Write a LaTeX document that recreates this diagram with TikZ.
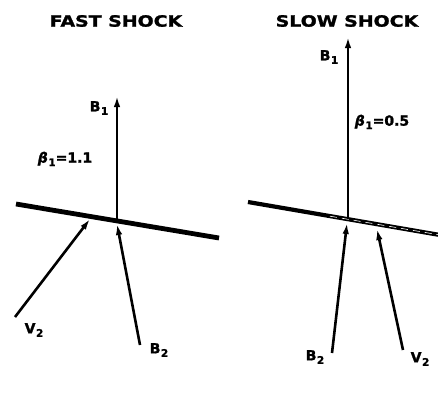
\documentclass[tikz,border=0pt]{standalone}
\usepackage{fontspec}
\setmainfont{DejaVu Sans}
\newfontfamily\titlefont[FakeStretch=1.22,FakeBold=1.5]{DejaVu Sans Bold}
\newfontfamily\labfont[FakeBold=1.5]{DejaVu Sans Bold}
\newfontfamily\labfontit[FakeBold=1.5]{DejaVu Sans Bold Oblique}
\newcommand\lsub[1]{\kern0.5pt\raisebox{-3.5pt}{\fontsize{10.5}{11}\selectfont #1}}
\usetikzlibrary{arrows.meta}
\begin{document}
\begin{tikzpicture}[x=1pt,y=-1pt,
  ttl/.style={font=\titlefont\fontsize{15.5}{17}\selectfont, inner sep=0pt},
  lab/.style={font=\labfont\fontsize{14}{15}\selectfont, inner sep=0pt},
  vec/.style={line width=2.6pt, -{Latex[length=11pt,width=6.5pt]}},
  shock/.style={line width=4.8pt},
  shockgap/.style={white, line width=0.6pt, dash pattern=on 7pt off 5pt}]
\useasboundingbox (0,0) rectangle (438,404);
% ---------- FAST SHOCK ----------
\node[ttl] (t1) at (116,21) {FAST SHOCK};
\coordinate (s1a) at (16,204);
\coordinate (s1b) at (219,238);
\draw[shock] (s1a) -- (s1b);
\coordinate (o1) at (117,222);
\coordinate (b1top) at (117,96);
\draw[vec] (o1) -- (b1top);
\coordinate (v2s) at (15,317);
\coordinate (v2e) at (90,219);
\draw[vec] (v2s) -- (v2e);
\coordinate (b2s) at (140,345);
\coordinate (b2e) at (117,224);
\draw[vec] (b2s) -- (b2e);
\node[lab] (lb1) at (99,108) {B\lsub{1}};
\node[lab] (lbeta1) at (65,159) {{\labfontit β}\lsub{1}=1.1};
\node[lab] (lv2) at (34,330) {V\lsub{2}};
\node[lab] (lb2) at (159,350) {B\lsub{2}};
% ---------- SLOW SHOCK ----------
\node[ttl] (t2) at (347,21) {SLOW SHOCK};
\coordinate (s2a) at (248,202);
\coordinate (s2b) at (440,235);
\draw[shock, line width=4.2pt] (s2a) -- (s2b);
\coordinate (g2a) at (330,216.2);
\coordinate (g2b) at (440,235);
\draw[shockgap] (g2a) -- (g2b);
\coordinate (o2) at (348,219);
\coordinate (b1top2) at (348,37);
\draw[vec] (o2) -- (b1top2);
\coordinate (b2s2) at (332,353);
\coordinate (b2e2) at (347,223);
\draw[vec] (b2s2) -- (b2e2);
\coordinate (v2s2) at (403,350);
\coordinate (v2e2) at (377,229);
\draw[vec] (v2s2) -- (v2e2);
\node[lab] (rb1) at (329,57) {B\lsub{1}};
\node[lab] (rbeta1) at (382,122) {{\labfontit β}\lsub{1}=0.5};
\node[lab] (rb2) at (315,357) {B\lsub{2}};
\node[lab] (rv2) at (420,359) {V\lsub{2}};
\end{tikzpicture}
\end{document}
